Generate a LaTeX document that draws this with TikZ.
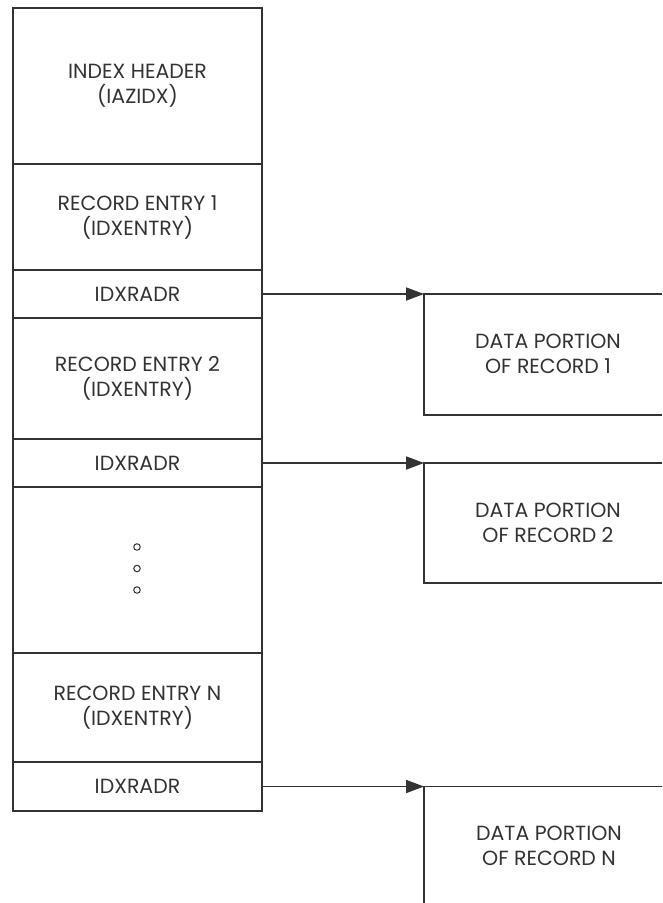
\documentclass[tikz,border=0pt]{standalone}
\usepackage{fontspec}
\setmainfont{Poppins}
\usetikzlibrary{arrows.meta}
\definecolor{ink}{HTML}{333333}
\tikzset{
  cell/.style={draw=ink, line width=1.8pt, minimum width=249pt, inner sep=0pt, outer sep=0pt,
    align=center, text=ink, font=\fontsize{20.5}{25}\selectfont},
  lbl/.style={align=center, text=ink, inner sep=0pt, font=\fontsize{20.5}{25}\selectfont},
  wire/.style={draw=ink, line width=1.8pt},
  arr/.style={wire, -{Triangle[length=18pt,width=13pt]}},
  dot/.style={circle, draw=ink, line width=1pt, minimum size=6.5pt, inner sep=0pt}
}
\begin{document}
\begin{tikzpicture}[x=1pt,y=-1pt]
\useasboundingbox (0,0) rectangle (662,903);
% left column
\node[cell, minimum height=156pt] (hdr) at (137.5,86) {INDEX HEADER\\(IAZIDX)};
\node[cell, minimum height=106pt] (e1) at (137.5,217) {RECORD ENTRY 1\\(IDXENTRY)};
\node[cell, minimum height=48pt] (r1) at (137.5,294) {IDXRADR};
\node[cell, minimum height=121pt] (e2) at (137.5,378.5) {RECORD ENTRY 2\\(IDXENTRY)};
\node[cell, minimum height=48pt] (r2) at (137.5,463) {IDXRADR};
\node[cell, minimum height=166pt] (gap) at (137.5,570) {};
\node[cell, minimum height=109pt] (eN) at (137.5,707.5) {RECORD ENTRY N\\(IDXENTRY)};
\node[cell, minimum height=49pt] (rN) at (137.5,786.5) {IDXRADR};
% dots
\node[dot] (o1) at (137,547) {};
\node[dot] (o2) at (137,568.5) {};
\node[dot] (o3) at (137,590) {};
% data portions
\coordinate (c1) at (424,294);
\coordinate (c2) at (424,463);
\coordinate (cN) at (424,786.5);
\draw[wire] (662,294) -- (c1) -- (424,415) -- (662,415);
\draw[wire] (662,463) -- (c2) -- (424,583) -- (662,583);
\draw[wire] (662,786.5) -- (cN) -- (424,903);
\node[lbl] (d1) at (548,354) {DATA PORTION\\OF RECORD 1};
\node[lbl] (d2) at (548,523) {DATA PORTION\\OF RECORD 2};
\node[lbl] (dN) at (549,846) {DATA PORTION\\OF RECORD N};
% arrows
\draw[arr] (r1.east) -- (c1);
\draw[arr] (r2.east) -- (c2);
\draw[arr] (rN.east) -- (cN);
\end{tikzpicture}
\end{document}
